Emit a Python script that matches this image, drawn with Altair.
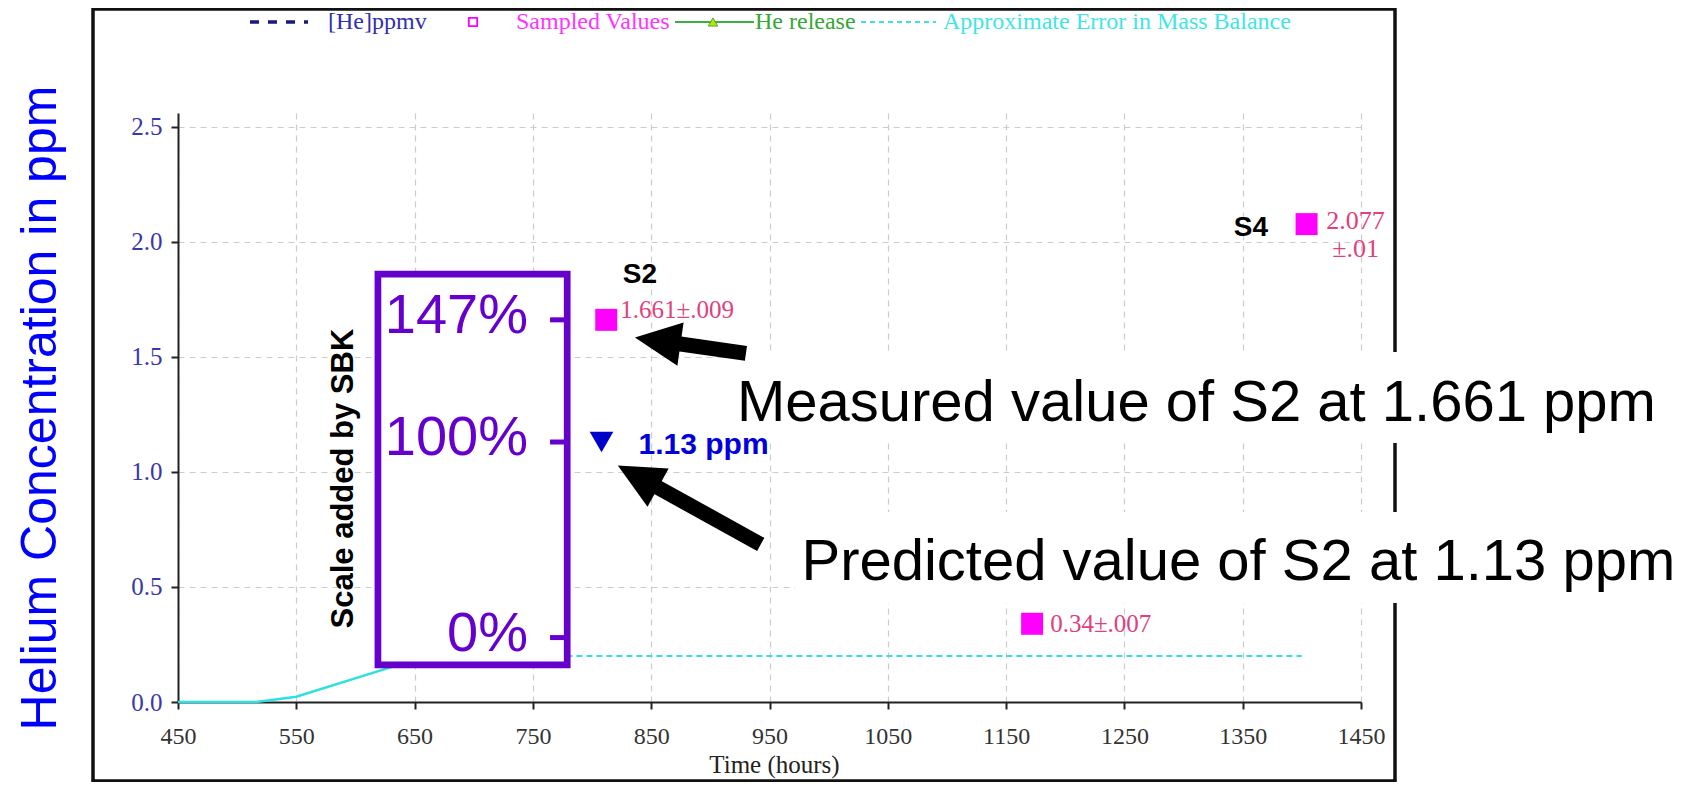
import math
import altair as alt
import pandas as pd

# ------------------------------------------------------------------ data
x_ticks = [450, 550, 650, 750, 850, 950, 1050, 1150, 1250, 1350, 1450]
y_ticks = [0.0, 0.5, 1.0, 1.5, 2.0, 2.5]

# sampled (measured) values
sample_time = [812, 1172, 1404]
sample_conc = [1.661, 0.34, 2.077]
sample_text = ["1.661±.009", "0.34±.007", "2.077\n±.01"]

# predicted value
pred_time = [808]
pred_conc = [1.13]
pred_text = ["1.13 ppm"]

# approximate error in mass balance
err_solid_time = [450, 516, 550, 618, 660]
err_solid_conc = [0.0, 0.0, 0.023, 0.132, 0.2]
err_dash_time = [660, 1400]
err_dash_conc = [0.2, 0.2]

# sample names
name_text = ["S2", "S4"]
name_time = [840.5, 1357]
name_conc = [1.856, 2.062]

# scale added by SBK
sbk_labels = ["147%", "100%", "0%"]
sbk_levels = [1.661, 1.13, 0.28]
sbk_box_time = [619, 779]
sbk_box_conc = [0.161, 1.86]
sbk_tick_time = [764.5, 777]
sbk_label_time = 745.9
sbk_title = "Scale added by SBK"
sbk_title_time = 597.9
sbk_title_conc = 0.971

# call-out notes
note_text = ["Measured value of S2 at 1.661 ppm", "Predicted value of S2 at 1.13 ppm"]
note_time = [922.5, 977.0]
note_conc = [1.221, 0.530]
note_bg_time0 = [915.8, 971.6]
note_bg_time1 = [1725, 1725]
note_bg_conc0 = [1.126, 0.430]
note_bg_conc1 = [1.521, 0.826]

# arrows (head centre -> tail)
arrow_head_time = [855.5, 838.8]
arrow_head_conc = [1.570, 0.980]
arrow_tail_time = [930.1, 942.6]
arrow_tail_conc = [1.515, 0.685]

# legend entries
legend_labels = ["[He]ppmv", "Sampled Values", "He release", "Approximate Error in Mass Balance"]

# ------------------------------------------------------------------ layout
W, H = 1183, 589
X_DOMAIN = [450, 1450]
Y_DOMAIN = [0, 2.56]
PX_T = W / (X_DOMAIN[1] - X_DOMAIN[0])
PX_C = H / (Y_DOMAIN[1] - Y_DOMAIN[0])

serif = "Liberation Serif"
sans = "Liberation Sans"

xs = alt.Scale(domain=X_DOMAIN, nice=False, zero=False)
ys = alt.Scale(domain=Y_DOMAIN, nice=False, zero=False)

x_axis = alt.Axis(
    values=x_ticks, format="d", title="Time (hours)",
    labelFont=serif, labelFontSize=24, labelColor="#333333", labelPadding=15,
    labelFlush=False, labelOverlap=False,
    tickSize=7, tickWidth=2, tickColor="#222222",
    domainColor="#222222", domainWidth=2,
    grid=True, gridColor="#cccccc", gridDash=[6, 5], gridWidth=1.2,
    titleFont=serif, titleFontSize=25, titleFontWeight="normal", titleColor="#222222",
    titleX=596, titleY=62, titleBaseline="middle",
)
y_axis = alt.Axis(
    values=y_ticks, format=".1f", title="Helium Concentration in ppm",
    labelFont=serif, labelFontSize=25, labelColor="#3838a8", labelPadding=9,
    labelFlush=False, labelOverlap=False,
    tickSize=7, tickWidth=2, tickColor="#222222",
    domainColor="#222222", domainWidth=2,
    grid=True, gridColor="#cccccc", gridDash=[6, 5], gridWidth=1.2,
    titleFont=sans, titleFontSize=50, titleFontWeight="normal", titleColor="#0000ff",
    titleAngle=270, titleX=-123, titleY=H / 2, titleAlign="center", titleBaseline="alphabetic",
)


def X(f):
    return alt.X(f"{f}:Q", scale=xs, axis=x_axis)


def Y(f):
    return alt.Y(f"{f}:Q", scale=ys, axis=y_axis)


one = pd.DataFrame({"k": [0]})

# ------------------------------------------------------------------ frame
frame = alt.Chart(one).mark_rect(fillOpacity=0, stroke="#111111", strokeWidth=3.5).encode(
    x=alt.value(-85), x2=alt.value(1217), y=alt.value(-104), y2=alt.value(668)
)

# ------------------------------------------------------------------ error line
err_solid = alt.Chart(pd.DataFrame({"t": err_solid_time, "c": err_solid_conc})).mark_line(
    color="#2ee0e0", strokeWidth=2.5
).encode(x=X("t"), y=Y("c"))

err_dash = alt.Chart(pd.DataFrame({"t": err_dash_time, "c": err_dash_conc})).mark_line(
    color="#33e0e0", strokeWidth=2, strokeDash=[6, 4]
).encode(x=X("t"), y=Y("c"))

# ------------------------------------------------------------------ SBK scale box
box_df = pd.DataFrame({"t0": [sbk_box_time[0]], "t1": [sbk_box_time[1]],
                       "c0": [sbk_box_conc[0]], "c1": [sbk_box_conc[1]]})
box = alt.Chart(box_df).mark_rect(fill="white", stroke="#6600cc", strokeWidth=6.7).encode(
    x=X("t0"), x2="t1", y=Y("c0"), y2="c1"
)

sbk_df = pd.DataFrame({"label": sbk_labels, "level": sbk_levels,
                       "t0": sbk_tick_time[0], "t1": sbk_tick_time[1], "tl": sbk_label_time})
sbk_ticks = alt.Chart(sbk_df).mark_rule(color="#6600cc", strokeWidth=5).encode(
    x=X("t0"), x2="t1", y=Y("level")
)
sbk_text = alt.Chart(sbk_df).mark_text(
    font=sans, fontSize=56, color="#6600cc", align="right", baseline="middle", dy=-4
).encode(x=X("tl"), y=Y("level"), text="label:N")

sbk_title_layer = alt.Chart(pd.DataFrame({"t": [sbk_title_time], "c": [sbk_title_conc], "s": [sbk_title]})).mark_text(
    font=sans, fontSize=31, fontWeight="bold", color="black", angle=270,
    align="center", baseline="alphabetic"
).encode(x=X("t"), y=Y("c"), text="s:N")

# ------------------------------------------------------------------ notes
note_bg = alt.Chart(pd.DataFrame({"t0": note_bg_time0, "t1": note_bg_time1,
                                  "c0": note_bg_conc0, "c1": note_bg_conc1})).mark_rect(
    fill="white"
).encode(x=X("t0"), x2="t1", y=Y("c0"), y2="c1")

notes = alt.Chart(pd.DataFrame({"t": note_time, "c": note_conc, "s": note_text})).mark_text(
    font=sans, fontSize=58, color="black", align="left", baseline="alphabetic"
).encode(x=X("t"), y=Y("c"), text="s:N")

# ------------------------------------------------------------------ arrows
arr = pd.DataFrame({"ht": arrow_head_time, "hc": arrow_head_conc,
                    "tt": arrow_tail_time, "tc": arrow_tail_conc})
arr["angle"] = [
    math.degrees(math.atan2((hc - tc) * PX_C, (tt - ht) * PX_T))
    for ht, hc, tt, tc in zip(arr.ht, arr.hc, arr.tt, arr.tc)
]
shafts = alt.Chart(arr).mark_rule(color="black", strokeWidth=15, strokeCap="butt").encode(
    x=X("tt"), y=Y("tc"), x2="ht", y2="hc"
)
heads = alt.Chart(arr).mark_point(
    shape="M-1,0L1,-0.95L1,0.95Z", filled=True, size=2116, color="black", opacity=1
).encode(x=X("ht"), y=Y("hc"), angle=alt.Angle("angle:Q", scale=None))

# ------------------------------------------------------------------ samples
samp = pd.DataFrame({"t": sample_time, "c": sample_conc, "s": sample_text})
squares = alt.Chart(samp).mark_square(size=484, color="#ff00ff", opacity=1, filled=True).encode(
    x=X("t"), y=Y("c")
)
lab_color = "#e0407e"
lab_s2 = alt.Chart(samp.iloc[[0]]).mark_text(
    font=serif, fontSize=25, color=lab_color, align="left", baseline="middle", dx=14, dy=-10
).encode(x=X("t"), y=Y("c"), text="s:N")
lab_s3 = alt.Chart(samp.iloc[[1]]).mark_text(
    font=serif, fontSize=25, color=lab_color, align="left", baseline="middle", dx=18, dy=0
).encode(x=X("t"), y=Y("c"), text="s:N")
lab_s4 = alt.Chart(samp.iloc[[2]]).mark_text(
    font=serif, fontSize=26, color=lab_color, align="center", baseline="middle",
    dx=49, dy=-3, lineBreak="\n", lineHeight=28
).encode(x=X("t"), y=Y("c"), text="s:N")

# ------------------------------------------------------------------ predicted
pred = pd.DataFrame({"t": pred_time, "c": pred_conc, "s": pred_text})
tri = alt.Chart(pred).mark_point(shape="triangle-down", filled=True, size=560,
                                 color="#0000cc", opacity=1).encode(x=X("t"), y=Y("c"))
pred_lab = alt.Chart(pred).mark_text(
    font=sans, fontSize=30, fontWeight="bold", color="#0000dd", align="left",
    baseline="middle", dx=37, dy=3
).encode(x=X("t"), y=Y("c"), text="s:N")

names = alt.Chart(pd.DataFrame({"t": name_time, "c": name_conc, "s": name_text})).mark_text(
    font=sans, fontSize=28, fontWeight="bold", color="black", align="center", baseline="middle"
).encode(x=X("t"), y=Y("c"), text="s:N")

# ------------------------------------------------------------------ legend (top strip)
LY = -91
LF = 24
leg = [
    alt.Chart(one).mark_rule(color="#1a1a7a", strokeWidth=3.5, strokeDash=[9, 9]).encode(
        x=alt.value(72), x2=alt.value(130), y=alt.value(LY)),
    alt.Chart(one).mark_text(font=serif, fontSize=LF, color="#3030b0", align="left",
                             baseline="middle", text=legend_labels[0]).encode(
        x=alt.value(150), y=alt.value(LY)),
    alt.Chart(one).mark_square(filled=False, size=70, strokeWidth=1.8, color="#ff00ff", opacity=1).encode(
        x=alt.value(295), y=alt.value(LY)),
    alt.Chart(one).mark_text(font=serif, fontSize=LF, color="#ff33ff", align="left",
                             baseline="middle", text=legend_labels[1]).encode(
        x=alt.value(338), y=alt.value(LY)),
    alt.Chart(one).mark_rule(color="#3cb043", strokeWidth=1.8).encode(
        x=alt.value(497), x2=alt.value(576), y=alt.value(LY)),
    alt.Chart(one).mark_point(shape="triangle-up", filled=True, size=90, fill="#c8e000",
                              stroke="#3cb043", strokeWidth=1, opacity=1).encode(
        x=alt.value(535), y=alt.value(LY)),
    alt.Chart(one).mark_text(font=serif, fontSize=LF, color="#33a833", align="left",
                             baseline="middle", text=legend_labels[2]).encode(
        x=alt.value(577), y=alt.value(LY)),
    alt.Chart(one).mark_rule(color="#40e0e0", strokeWidth=1.8, strokeDash=[5, 4]).encode(
        x=alt.value(683), x2=alt.value(758), y=alt.value(LY)),
    alt.Chart(one).mark_text(font=serif, fontSize=LF, color="#3ee6e6", align="left",
                             baseline="middle", text=legend_labels[3]).encode(
        x=alt.value(765), y=alt.value(LY)),
]

chart = alt.layer(
    frame, err_solid, err_dash, box, sbk_ticks, sbk_text, sbk_title_layer,
    note_bg, notes, shafts, heads, squares, lab_s2, lab_s3, lab_s4,
    tri, pred_lab, names, *leg
).properties(
    width=W, height=H,
    autosize=alt.AutoSizeParams(type="none"),
    padding={"left": 170, "top": 105, "right": 320, "bottom": 80},
    background="white",
).configure_view(strokeWidth=0)

chart.save("out.html", embed_options={"renderer": "svg", "actions": False})
